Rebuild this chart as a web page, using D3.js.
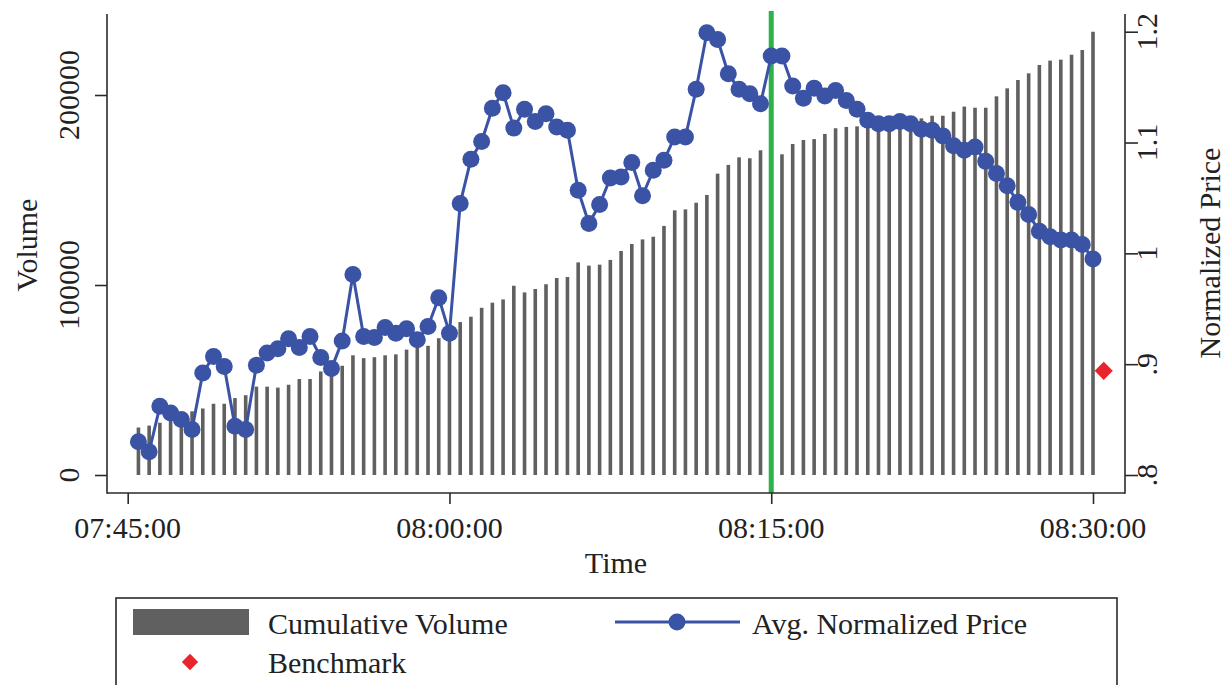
<!DOCTYPE html>
<html>
<head>
<meta charset="utf-8">
<script src="https://cdn.jsdelivr.net/npm/d3@7"></script>
<style>
  html, body { margin: 0; padding: 0; background: #fff; }
  svg { display: block; }
  text { font-family: "Liberation Serif", "DejaVu Serif", serif; fill: #222; }
</style>
</head>
<body>
<svg id="chart" width="1225" height="685"></svg>
<script>
// 30-second snapshots of the opening auction
const times = [
  "07:45:30","07:46:00","07:46:30","07:47:00","07:47:30","07:48:00","07:48:30","07:49:00","07:49:30","07:50:00",
  "07:50:30","07:51:00","07:51:30","07:52:00","07:52:30","07:53:00","07:53:30","07:54:00","07:54:30","07:55:00",
  "07:55:30","07:56:00","07:56:30","07:57:00","07:57:30","07:58:00","07:58:30","07:59:00","07:59:30","08:00:00",
  "08:00:30","08:01:00","08:01:30","08:02:00","08:02:30","08:03:00","08:03:30","08:04:00","08:04:30","08:05:00",
  "08:05:30","08:06:00","08:06:30","08:07:00","08:07:30","08:08:00","08:08:30","08:09:00","08:09:30","08:10:00",
  "08:10:30","08:11:00","08:11:30","08:12:00","08:12:30","08:13:00","08:13:30","08:14:00","08:14:30","08:15:00",
  "08:15:30","08:16:00","08:16:30","08:17:00","08:17:30","08:18:00","08:18:30","08:19:00","08:19:30","08:20:00",
  "08:20:30","08:21:00","08:21:30","08:22:00","08:22:30","08:23:00","08:23:30","08:24:00","08:24:30","08:25:00",
  "08:25:30","08:26:00","08:26:30","08:27:00","08:27:30","08:28:00","08:28:30","08:29:00","08:29:30","08:30:00"
];

const cumulativeVolume = [
  25000, 26000, 27500, 30000, 32000, 33500, 35000, 37500, 37500, 40500,
  42000, 46500, 46500, 46000, 47500, 50500, 50500, 54500, 56000, 57500,
  63000, 61500, 62000, 63000, 63500, 66000, 67000, 68000, 72000, 73500,
  80500, 83300, 88000, 90700, 92400, 99600, 96100, 97900, 100400, 103700,
  104200, 111900, 110200, 110700, 113200, 117900, 121600, 124000, 125400, 131100,
  139300, 139800, 143300, 147400, 158600, 163200, 167200, 166700, 170900, 166500,
  168800, 174200, 176300, 176800, 179500, 182500, 183200, 183500, 184000, 184500,
  185500, 186500, 187200, 187700, 189100, 189100, 191200, 193900, 193300, 193300,
  199300, 203500, 207900, 211400, 215800, 218100, 218600, 221200, 223700, 233300
];

const avgNormalizedPrice = [
  0.830, 0.821, 0.862, 0.856, 0.850, 0.841, 0.892, 0.907, 0.898, 0.844,
  0.841, 0.899, 0.910, 0.914, 0.923, 0.915, 0.925, 0.906, 0.896, 0.921,
  0.981, 0.925, 0.924, 0.933, 0.928, 0.932, 0.922, 0.934, 0.960, 0.928,
  1.045, 1.085, 1.101, 1.131, 1.145, 1.113, 1.130, 1.119, 1.126, 1.114,
  1.111, 1.057, 1.027, 1.044, 1.068, 1.069, 1.082, 1.052, 1.075, 1.084,
  1.105, 1.105, 1.148, 1.199, 1.193, 1.162, 1.148, 1.144, 1.135, 1.178,
  1.178, 1.151, 1.140, 1.149, 1.142, 1.147, 1.138, 1.130, 1.120, 1.117,
  1.117, 1.119, 1.117, 1.112, 1.111, 1.106, 1.097, 1.093, 1.096, 1.083,
  1.072, 1.061, 1.046, 1.035, 1.020, 1.015, 1.012, 1.012, 1.008, 0.995
];

const benchmarkTime = "08:30:30";
const benchmarkPrice = 0.894;
const markerTime = "08:15:00";

const timeTicks = ["07:45:00", "08:00:00", "08:15:00", "08:30:00"];
const volumeTicks = [0, 100000, 200000];
const priceTicks = [0.8, 0.9, 1.0, 1.1, 1.2];
const priceTickLabels = [".8", ".9", "1", "1.1", "1.2"];

const legendLabels = ["Cumulative Volume", "Avg. Normalized Price", "Benchmark"];

// ---- layout ----
const plotLeft = 107, plotRight = 1125, plotTop = 14, plotBottom = 493;
const barColor = "#606060";
const lineColor = "#3a53a5";
const markColor = "#2db34a";
const benchColor = "#e8252a";
const axisColor = "#2a2a2a";
const fontSize = 30;

const parse = d3.timeParse("%H:%M:%S");
const svg = d3.select("#chart");

const x = d3.scaleTime()
  .domain([parse("07:45:00"), parse("08:30:00")])
  .range([127.7, 1093]);
const yVol = d3.scaleLinear().domain([0, 200000]).range([475, 95]);
const yPrice = d3.scaleLinear().domain([0.8, 1.2]).range([475, 31.7]);

const rows = times.map((t, i) => ({ t: parse(t), v: cumulativeVolume[i], p: avgNormalizedPrice[i] }));

// cumulative volume spikes
svg.append("g").selectAll("rect")
  .data(rows)
  .join("rect")
  .attr("x", d => x(d.t) - 1.8)
  .attr("width", 3.6)
  .attr("y", d => yVol(d.v))
  .attr("height", d => yVol(0) - yVol(d.v))
  .attr("fill", barColor);

// start of the trading phase
svg.append("line")
  .attr("x1", x(parse(markerTime))).attr("x2", x(parse(markerTime)))
  .attr("y1", 11).attr("y2", plotBottom)
  .attr("stroke", markColor).attr("stroke-width", 5);

// average normalized price
const line = d3.line().x(d => x(d.t)).y(d => yPrice(d.p));
svg.append("path")
  .datum(rows)
  .attr("d", line)
  .attr("fill", "none")
  .attr("stroke", lineColor)
  .attr("stroke-width", 3)
  .attr("stroke-linejoin", "round");
svg.append("g").selectAll("circle")
  .data(rows)
  .join("circle")
  .attr("cx", d => x(d.t))
  .attr("cy", d => yPrice(d.p))
  .attr("r", 8.5)
  .attr("fill", lineColor);

// benchmark
const diamond = d3.symbol().type(d3.symbolDiamond2).size(210);
const smallDiamond = d3.symbol().type(d3.symbolDiamond2).size(170);
svg.append("path")
  .attr("d", diamond())
  .attr("transform", `translate(${x(parse(benchmarkTime))},${yPrice(benchmarkPrice)})`)
  .attr("fill", benchColor);

// ---- axes ----
const axisG = svg.append("g").attr("stroke", axisColor).attr("stroke-width", 1.6);
axisG.append("line").attr("x1", plotLeft).attr("x2", plotLeft).attr("y1", plotTop).attr("y2", plotBottom + 0.8);
axisG.append("line").attr("x1", plotRight).attr("x2", plotRight).attr("y1", plotTop).attr("y2", plotBottom + 0.8);
axisG.append("line").attr("x1", plotLeft).attr("x2", plotRight).attr("y1", plotBottom).attr("y2", plotBottom);

// left: volume
const leftAxis = svg.append("g")
  .attr("transform", `translate(${plotLeft},0)`)
  .call(d3.axisLeft(yVol).tickValues(volumeTicks).tickSize(12).tickFormat(""));
leftAxis.select(".domain").remove();
leftAxis.selectAll(".tick line").attr("stroke", axisColor).attr("stroke-width", 1.6);
svg.append("g").selectAll("text")
  .data(volumeTicks)
  .join("text")
  .attr("transform", d => `translate(79,${yVol(d)}) rotate(-90)`)
  .attr("text-anchor", "middle")
  .attr("font-size", fontSize)
  .text(d => d3.format("d")(d));

// right: price
const rightAxis = svg.append("g")
  .attr("transform", `translate(${plotRight},0)`)
  .call(d3.axisRight(yPrice).tickValues(priceTicks).tickSize(13).tickFormat(""));
rightAxis.select(".domain").remove();
rightAxis.selectAll(".tick line").attr("stroke", axisColor).attr("stroke-width", 1.6);
svg.append("g").selectAll("text")
  .data(priceTicks)
  .join("text")
  .attr("transform", (d, i) => `translate(1157,${yPrice(d)}) rotate(-90)`)
  .attr("text-anchor", "middle")
  .attr("font-size", fontSize)
  .text((d, i) => priceTickLabels[i]);

// bottom: time
const bottomAxis = svg.append("g")
  .attr("transform", `translate(0,${plotBottom})`)
  .call(d3.axisBottom(x).tickValues(timeTicks.map(parse)).tickSize(11).tickFormat(""));
bottomAxis.select(".domain").remove();
bottomAxis.selectAll(".tick line").attr("stroke", axisColor).attr("stroke-width", 1.6);
svg.append("g").selectAll("text")
  .data(timeTicks)
  .join("text")
  .attr("x", d => x(parse(d)))
  .attr("y", 538)
  .attr("text-anchor", "middle")
  .attr("font-size", fontSize)
  .text(d => d);

// axis titles
svg.append("text")
  .attr("transform", "translate(37,245) rotate(-90)")
  .attr("text-anchor", "middle")
  .attr("font-size", fontSize)
  .text("Volume");
svg.append("text")
  .attr("transform", "translate(1220,253) rotate(-90)")
  .attr("text-anchor", "middle")
  .attr("font-size", fontSize)
  .text("Normalized Price");
svg.append("text")
  .attr("x", (plotLeft + plotRight) / 2)
  .attr("y", 573)
  .attr("text-anchor", "middle")
  .attr("font-size", fontSize)
  .text("Time");

// ---- legend ----
const lg = svg.append("g");
lg.append("rect")
  .attr("x", 116).attr("y", 598).attr("width", 1001).attr("height", 120)
  .attr("fill", "none").attr("stroke", axisColor).attr("stroke-width", 1.6);
lg.append("rect")
  .attr("x", 133).attr("y", 609).attr("width", 116).attr("height", 26)
  .attr("fill", barColor);
lg.append("text").attr("x", 268).attr("y", 634).attr("font-size", fontSize).text(legendLabels[0]);
lg.append("line")
  .attr("x1", 615).attr("x2", 740).attr("y1", 622).attr("y2", 622)
  .attr("stroke", lineColor).attr("stroke-width", 3);
lg.append("circle").attr("cx", 677).attr("cy", 622).attr("r", 8.5).attr("fill", lineColor);
lg.append("text").attr("x", 752).attr("y", 634).attr("font-size", fontSize).text(legendLabels[1]);
lg.append("path")
  .attr("d", smallDiamond())
  .attr("transform", "translate(190,662)")
  .attr("fill", benchColor);
lg.append("text").attr("x", 268).attr("y", 673).attr("font-size", fontSize).text(legendLabels[2]);
</script>
</body>
</html>
